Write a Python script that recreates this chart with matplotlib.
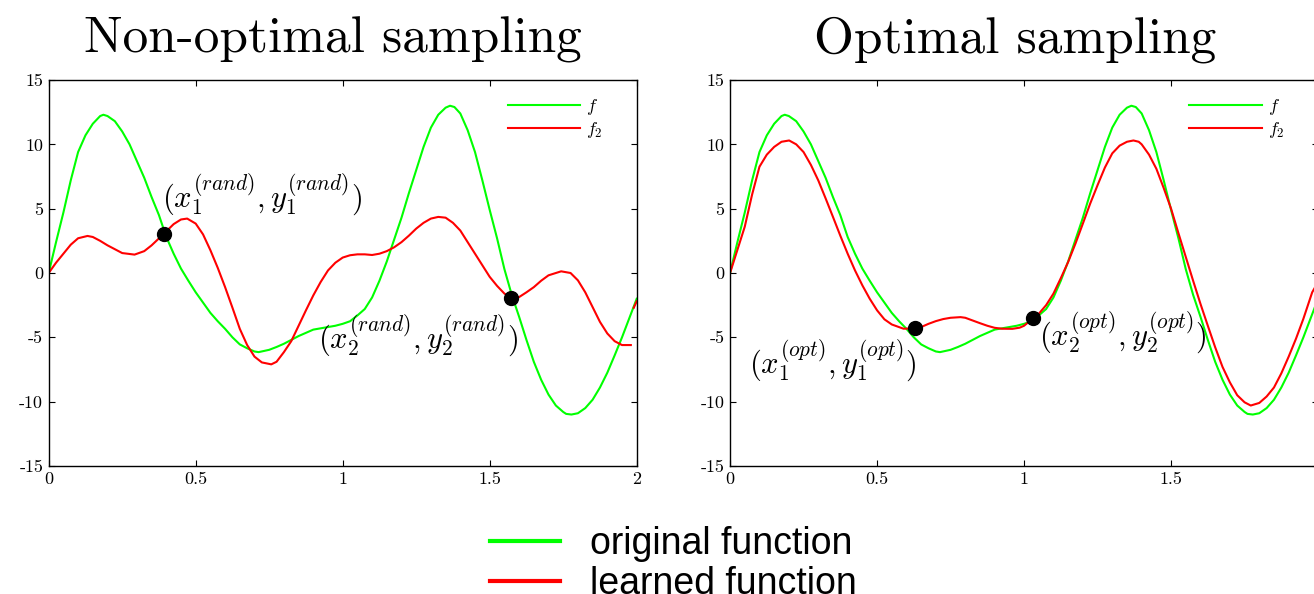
import numpy as np
import matplotlib.pyplot as plt
from matplotlib.lines import Line2D

plt.rcParams['mathtext.fontset'] = 'cm'
plt.rcParams['axes.unicode_minus'] = False

# original function f (same curve in both panels), (x, y)
green = [(0, 0), (.025, 2.4), (.05, 4.7), (.075, 7.2), (.1, 9.4), (.125, 10.7), (.15, 11.6), (.175, 12.2),
         (.186, 12.3), (.2, 12.2), (.225, 11.8), (.25, 11.0), (.275, 10.0), (.3, 8.7), (.325, 7.4), (.35, 5.9),
         (.375, 4.5), (.4, 2.8), (.425, 1.5), (.45, .34), (.475, -.6), (.5, -1.5), (.525, -2.3), (.55, -3.1),
         (.575, -3.75), (.6, -4.34), (.625, -5.0), (.65, -5.55), (.675, -5.85), (.7, -6.1), (.714, -6.15),
         (.75, -5.97), (.775, -5.75), (.8, -5.5), (.825, -5.2), (.85, -4.9), (.875, -4.65), (.9, -4.4),
         (.95, -4.2), (.975, -4.1), (1.0, -3.95), (1.025, -3.75), (1.05, -3.3), (1.075, -2.8), (1.1, -1.9),
         (1.125, -.6), (1.15, .9), (1.175, 2.6), (1.2, 4.3), (1.225, 6.2), (1.25, 8.0), (1.275, 9.8),
         (1.3, 11.3), (1.325, 12.3), (1.35, 12.85), (1.365, 13.0), (1.38, 12.9), (1.4, 12.4), (1.425, 11.1),
         (1.45, 9.4), (1.475, 7.2), (1.5, 4.9), (1.525, 2.7), (1.55, .3), (1.575, -1.7), (1.6, -3.4),
         (1.625, -5.2), (1.65, -6.9), (1.675, -8.3), (1.7, -9.45), (1.725, -10.3), (1.75, -10.8), (1.76, -10.95),
         (1.778, -11.0), (1.8, -10.9), (1.825, -10.5), (1.85, -9.85), (1.875, -8.9), (1.9, -7.75),
         (1.925, -6.4), (1.95, -5.0), (1.98, -3.2), (2.0, -2.0)]

# learned function f2 with random samples
red_rand = [(0, 0), (.025, .8), (.05, 1.5), (.075, 2.2), (.1, 2.7), (.132, 2.88), (.15, 2.8), (.175, 2.5),
            (.2, 2.15), (.225, 1.85), (.25, 1.55), (.292, 1.43), (.325, 1.7), (.35, 2.15), (.392, 3.06),
            (.425, 3.8), (.45, 4.16), (.471, 4.23), (.5, 3.84), (.525, 3.0), (.55, 1.77), (.575, .4), (.6, -1.1),
            (.625, -2.7), (.65, -4.34), (.675, -5.6), (.7, -6.5), (.725, -6.95), (.757, -7.1), (.775, -6.9),
            (.8, -6.15), (.825, -5.3), (.85, -4.1), (.875, -2.9), (.9, -1.74), (.925, -.7), (.95, .2),
            (.975, .8), (1.0, 1.2), (1.025, 1.38), (1.05, 1.45), (1.075, 1.45), (1.1, 1.4), (1.125, 1.5),
            (1.15, 1.7), (1.175, 2.0), (1.2, 2.4), (1.225, 2.9), (1.25, 3.45), (1.275, 3.9), (1.3, 4.23),
            (1.325, 4.36), (1.35, 4.3), (1.375, 3.9), (1.4, 3.3), (1.425, 2.4), (1.45, 1.5), (1.475, .6),
            (1.5, -.3), (1.525, -1.0), (1.55, -1.6), (1.574, -1.95), (1.6, -1.87), (1.625, -1.5), (1.65, -1.1),
            (1.675, -.6), (1.7, -.18), (1.743, .13), (1.775, 0.0), (1.8, -.57), (1.825, -1.5), (1.85, -2.65),
            (1.875, -3.8), (1.9, -4.7), (1.925, -5.3), (1.95, -5.6), (1.98, -5.6), (1.985, np.nan),
            (1.99, -2.7), (2.0, -2.2)]

# learned function f2 with optimal samples
red_opt = [(0, 0), (.025, 1.8), (.05, 3.6), (.075, 6.1), (.1, 8.26), (.125, 9.2), (.15, 9.8), (.175, 10.2),
           (.201, 10.3), (.225, 10.0), (.25, 9.4), (.275, 8.4), (.3, 7.2), (.325, 5.8), (.35, 4.36),
           (.375, 2.9), (.4, 1.5), (.425, .2), (.45, -.96), (.475, -2.0), (.5, -2.9), (.525, -3.6), (.55, -4.0),
           (.59, -4.33), (.63, -4.3), (.65, -4.2), (.675, -3.95), (.7, -3.74), (.725, -3.58), (.75, -3.48),
           (.784, -3.43), (.8, -3.48), (.85, -3.9), (.875, -4.1), (.9, -4.26), (.925, -4.33), (.96, -4.34),
           (.985, -4.25), (1.0, -4.1), (1.032, -3.5), (1.05, -3.17), (1.075, -2.5), (1.1, -1.6), (1.125, -.4),
           (1.15, .86), (1.175, 2.3), (1.2, 3.84), (1.225, 5.4), (1.25, 6.83), (1.275, 8.2), (1.3, 9.3),
           (1.325, 9.9), (1.35, 10.2), (1.372, 10.3), (1.39, 10.2), (1.4, 10.0), (1.425, 9.2), (1.45, 8.1),
           (1.475, 6.6), (1.5, 5.0), (1.525, 3.1), (1.55, 1.25), (1.575, -.6), (1.6, -2.4), (1.625, -4.1),
           (1.65, -5.77), (1.675, -7.3), (1.7, -8.5), (1.725, -9.5), (1.75, -10.05), (1.771, -10.3),
           (1.8, -10.1), (1.825, -9.6), (1.85, -8.9), (1.875, -7.8), (1.9, -6.5), (1.925, -5.1), (1.95, -3.56),
           (1.98, -1.5), (2.0, -.7)]

rand_x = [0.392, 1.574]
rand_y = [3.06, -1.95]
opt_x = [0.63, 1.032]
opt_y = [-4.3, -3.5]

rand_notes = [(0.385, 6.1, r'$(x_1^{(rand)}, y_1^{(rand)})$'),
              (0.915, -4.85, r'$(x_2^{(rand)}, y_2^{(rand)})$')]
opt_notes = [(0.065, -6.8, r'$(x_1^{(opt)}, y_1^{(opt)})$'),
             (1.052, -4.6, r'$(x_2^{(opt)}, y_2^{(opt)})$')]

xticks = [0, 0.5, 1, 1.5, 2]
xlabels = ['0', '0.5', '1', '1.5', '2']
yticks = [-15, -10, -5, 0, 5, 10, 15]
ylabels = ['-15', '-10', '-5', '0', '5', '10', '15']
legend_labels = ['original function', 'learned function']

GREEN = '#00ff00'
RED = '#ff0000'
CMFONT = ['cmr10', 'DejaVu Serif']


def panel(ax, red, dx, dy, notes, title):
    gx, gy = zip(*green)
    rx, ry = zip(*red)
    ax.plot(gx, gy, color=GREEN, lw=1.5, label='$f$')
    ax.plot(rx, ry, color=RED, lw=1.5, label='$f_2$')
    ax.plot(dx, dy, 'o', color='black', ms=10, zorder=5)
    for tx, ty, s in notes:
        ax.text(tx, ty, s, fontsize=22, va='center', ha='left')
    ax.set_xlim(0, 2)
    ax.set_ylim(-15, 15)
    ax.set_xticks(xticks)
    ax.set_xticklabels(xlabels, family=CMFONT, fontsize=13)
    ax.set_yticks(yticks)
    ax.set_yticklabels(ylabels, family=CMFONT, fontsize=13)
    ax.tick_params(direction='in', top=True, right=True, length=4.5, width=0.8, pad=4)
    for sp in ax.spines.values():
        sp.set_linewidth(1.0)
    ax.legend(loc='upper left', bbox_to_anchor=(0.781, 0.955), frameon=False, fontsize=13,
              handlelength=4.0, handletextpad=0.35, labelspacing=0.15, borderpad=0, borderaxespad=0)
    ax.set_title(title, family=CMFONT, fontsize=37, x=0.484, pad=20)


fig = plt.figure(figsize=(13.14, 5.94), dpi=100)
ax1 = fig.add_axes([0.03706, 0.2155, 0.4475, 0.6498])
ax2 = fig.add_axes([0.5556, 0.2155, 0.4475, 0.6498])

panel(ax1, red_rand, rand_x, rand_y, rand_notes, 'Non-optimal sampling')
panel(ax2, red_opt, opt_x, opt_y, opt_notes, 'Optimal sampling')

handles = [Line2D([], [], color=GREEN, lw=3), Line2D([], [], color=RED, lw=3)]
fig.legend(handles, legend_labels, loc='upper left', bbox_to_anchor=(490 / 1314, 1 - 526 / 594),
           frameon=False, prop={'family': 'Liberation Sans', 'size': 27}, handlelength=1.87,
           handletextpad=0.8, labelspacing=0.12, borderpad=0, borderaxespad=0)

fig.savefig('out.png', dpi=100)
